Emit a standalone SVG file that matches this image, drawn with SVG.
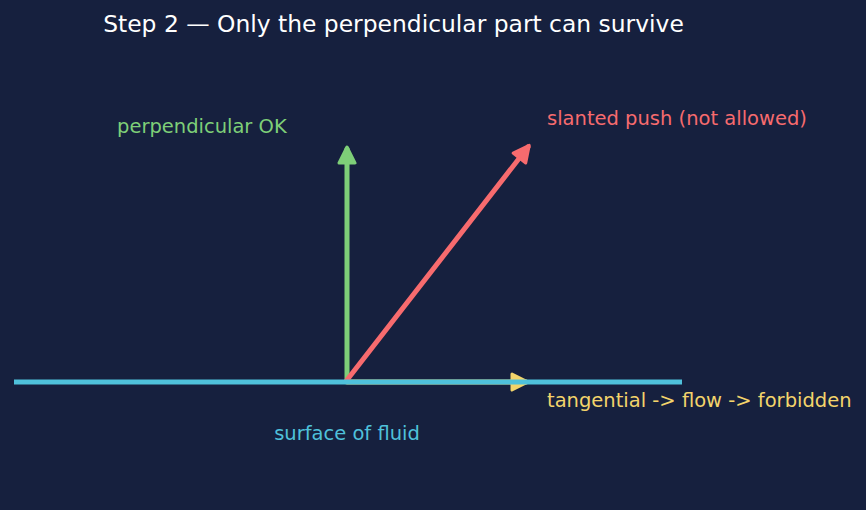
<svg xmlns="http://www.w3.org/2000/svg" width="866" height="510" viewBox="0 0 866 510">
<style>
text{font-family:"DejaVu Sans","Liberation Sans",sans-serif}
.title{font-size:23.4px;fill:#ffffff}
.lbl{font-size:19.5px}
.arr{fill:none;stroke-width:5;stroke-linecap:round}
</style>
<defs>
<marker id="hG" viewBox="0 0 10 10" refX="8" refY="5" markerWidth="4" markerHeight="4" orient="auto" markerUnits="strokeWidth"><path d="M1,1 L9,5 L1,9 Z" fill="#7ecf78" stroke="#7ecf78" stroke-width="1.5" stroke-linejoin="round"/></marker>
<marker id="hR" viewBox="0 0 10 10" refX="8" refY="5" markerWidth="4" markerHeight="4" orient="auto" markerUnits="strokeWidth"><path d="M1,1 L9,5 L1,9 Z" fill="#f76b6e" stroke="#f76b6e" stroke-width="1.5" stroke-linejoin="round"/></marker>
<marker id="hY" viewBox="0 0 10 10" refX="8" refY="5" markerWidth="4" markerHeight="4" orient="auto" markerUnits="strokeWidth"><path d="M1,1 L9,5 L1,9 Z" fill="#f3d46b" stroke="#f3d46b" stroke-width="1.5" stroke-linejoin="round"/></marker>
</defs>
<rect width="866" height="510" fill="#16203e"/>
<text class="title" x="393.5" y="32" text-anchor="middle">Step 2 — Only the perpendicular part can survive</text>
<g id="connectors">
<line id="tangential" class="arr" x1="347" y1="382" x2="526" y2="382" stroke="#f3d46b" marker-end="url(#hY)"/>
<line id="perpendicular" class="arr" x1="347" y1="380" x2="347" y2="149" stroke="#7ecf78" marker-end="url(#hG)"/>
<line id="slanted" class="arr" x1="347" y1="380" x2="528" y2="147" stroke="#f76b6e" marker-end="url(#hR)"/>
</g>
<g id="surface">
<line x1="14" y1="382" x2="682" y2="382" stroke="#4fc1db" stroke-width="5"/>
<text class="lbl" x="347" y="440" text-anchor="middle" fill="#4fc1db">surface of fluid</text>
</g>
<g id="label-perp"><text class="lbl" x="117" y="133" fill="#7ecf78">perpendicular OK</text></g>
<g id="label-slant"><text class="lbl" x="547" y="125" fill="#f76b6e">slanted push (not allowed)</text></g>
<g id="label-tan"><text class="lbl" x="547" y="407" fill="#f3d46b">tangential -&gt; flow -&gt; forbidden</text></g>
</svg>
